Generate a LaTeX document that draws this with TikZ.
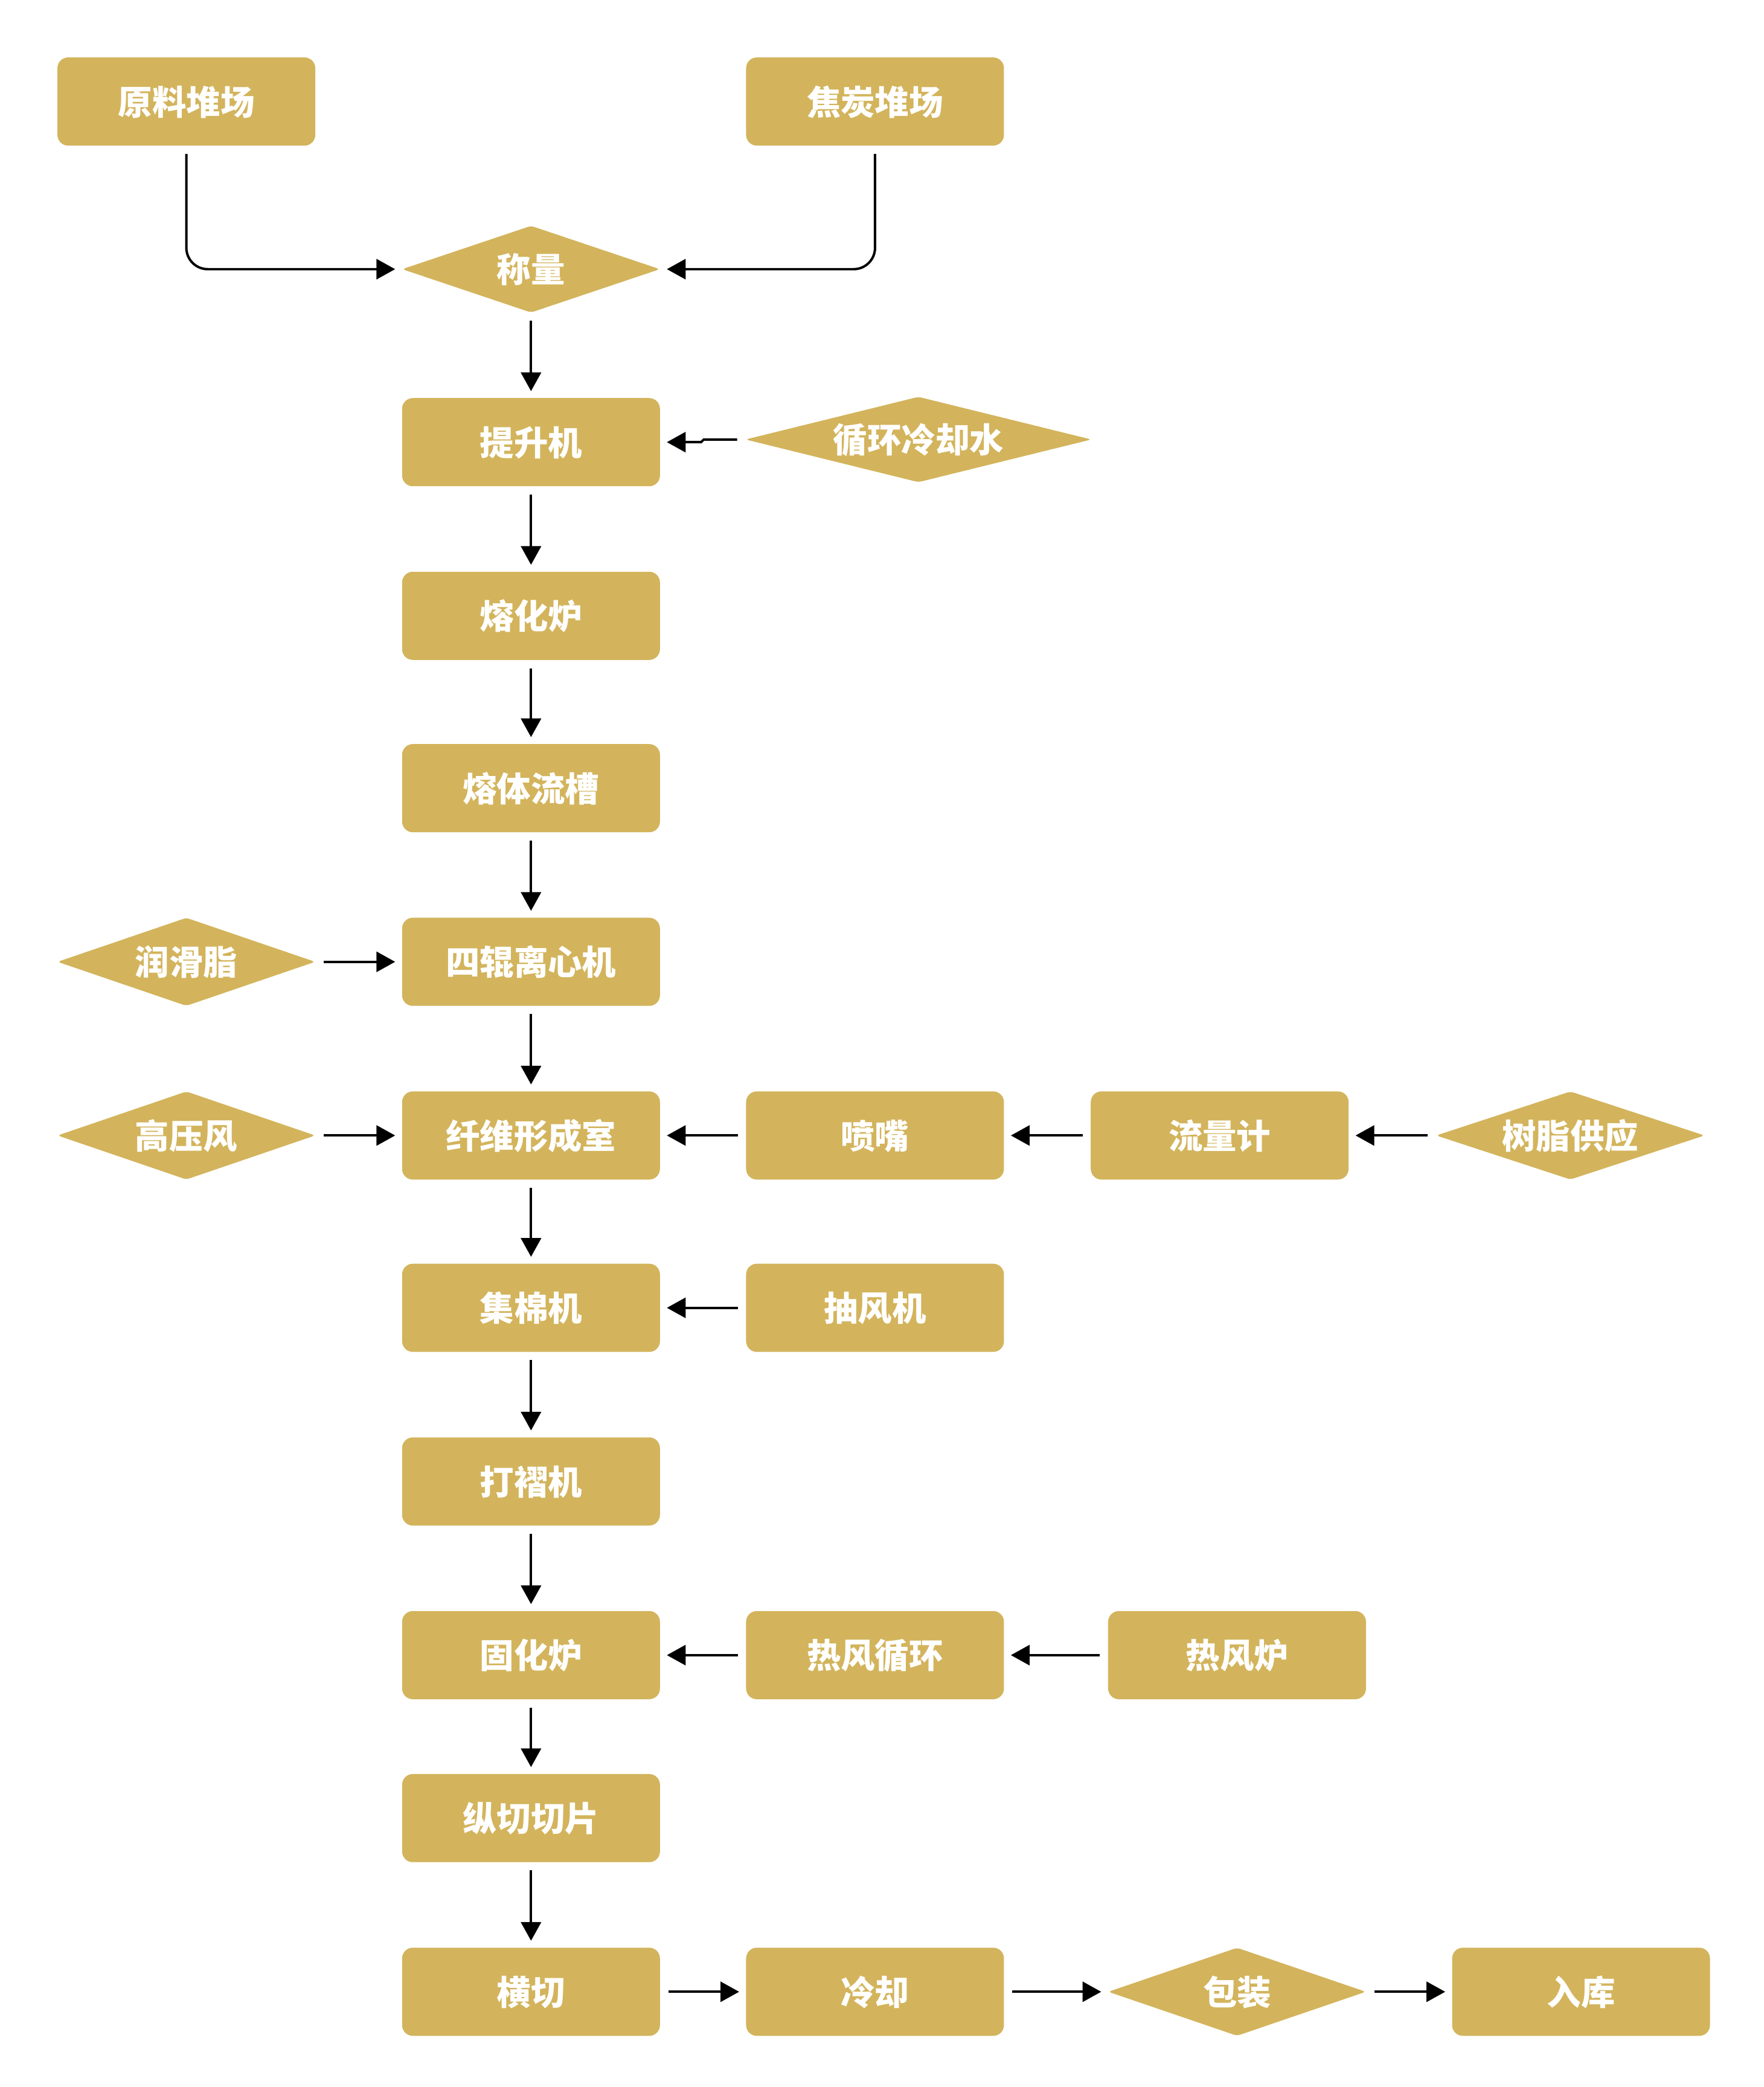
\documentclass[tikz,border=0pt]{standalone}
\usepackage{fontspec}
\newfontfamily\cjk{Noto Sans CJK SC}
\usetikzlibrary{shapes.geometric,arrows.meta}
\definecolor{gold}{HTML}{D3B45C}
\tikzset{
  box/.style={rectangle, rounded corners=8pt, fill=gold, minimum width=193pt, minimum height=66pt, inner sep=0pt, text=white, font=\cjk\bfseries\fontsize{25.5}{26}\selectfont, text height=21pt, text depth=1pt},
  dia/.style={diamond, rounded corners=2.5pt, fill=gold, inner sep=0pt, text=white, font=\cjk\bfseries\fontsize{25.5}{26}\selectfont, text height=21pt, text depth=1pt},
  conn/.style={line width=1.8pt, -{Triangle[length=14pt,width=15pt]}, shorten <=6pt, shorten >=5pt}
}
\newcommand{\dtxt}[1]{\makebox[0pt]{#1}}
\begin{document}
\begin{tikzpicture}[x=1pt,y=-1pt]
\useasboundingbox (0,0) rectangle (1320,1562.3);
% top
\node[box] (ylc) at (139.5,76) {原料堆场};
\node[box] (jt) at (655,76) {焦炭堆场};
\node[dia, minimum width=193pt, minimum height=65pt] (cl) at (397.5,201.5) {\dtxt{称量}};
\node[box] (tsj) at (397.5,331) {提升机};
\node[dia, minimum width=259pt, minimum height=64pt] (xhl) at (687.5,329) {\dtxt{循环冷却水}};
\node[box] (rhl) at (397.5,461) {熔化炉};
\node[box] (rtlc) at (397.5,590) {熔体流槽};
\node[box] (sg) at (397.5,720) {四辊离心机};
\node[dia, minimum width=193pt, minimum height=66pt] (rhz) at (139.5,720) {\dtxt{润滑脂}};
\node[box] (xw) at (397.5,850) {纤维形成室};
\node[dia, minimum width=193pt, minimum height=66pt] (gyf) at (139.5,850) {\dtxt{高压风}};
\node[box] (pz) at (655,850) {喷嘴};
\node[box] (llj) at (913,850) {流量计};
\node[dia, minimum width=201pt, minimum height=66pt] (szgy) at (1175.5,850) {\dtxt{树脂供应}};
\node[box] (jm) at (397.5,979) {集棉机};
\node[box] (cfj) at (655,979) {抽风机};
\node[box] (dz) at (397.5,1109) {打褶机};
\node[box] (ghl) at (397.5,1239) {固化炉};
\node[box] (rfxh) at (655,1239) {热风循环};
\node[box] (rfl) at (926,1239) {热风炉};
\node[box] (zq) at (397.5,1361) {纵切切片};
\node[box] (hq) at (397.5,1491) {横切};
\node[box] (lq) at (655,1491) {冷却};
\node[dia, minimum width=193pt, minimum height=66pt] (bz) at (926,1491) {\dtxt{包装}};
\node[box] (rk) at (1183.5,1491) {入库};
% connectors
\draw[conn, rounded corners=16pt] (ylc.south) |- (cl.west);
\draw[conn, rounded corners=16pt] (jt.south) |- (cl.east);
\draw[conn] (cl.south) -- (tsj.north);
\draw[conn] (xhl.west) -- ++(-31,0) -- ++(-2,2) -- (tsj.east);
\draw[conn] (tsj.south) -- (rhl.north);
\draw[conn] (rhl.south) -- (rtlc.north);
\draw[conn] (rtlc.south) -- (sg.north);
\draw[conn] (rhz.east) -- (sg.west);
\draw[conn] (sg.south) -- (xw.north);
\draw[conn] (gyf.east) -- (xw.west);
\draw[conn] (pz.west) -- (xw.east);
\draw[conn] (llj.west) -- (pz.east);
\draw[conn] (szgy.west) -- (llj.east);
\draw[conn] (xw.south) -- (jm.north);
\draw[conn] (cfj.west) -- (jm.east);
\draw[conn] (jm.south) -- (dz.north);
\draw[conn] (dz.south) -- (ghl.north);
\draw[conn] (rfxh.west) -- (ghl.east);
\draw[conn] (rfl.west) -- (rfxh.east);
\draw[conn] (ghl.south) -- (zq.north);
\draw[conn] (zq.south) -- (hq.north);
\draw[conn] (hq.east) -- (lq.west);
\draw[conn] (lq.east) -- (bz.west);
\draw[conn] (bz.east) -- (rk.west);
\end{tikzpicture}
\end{document}
